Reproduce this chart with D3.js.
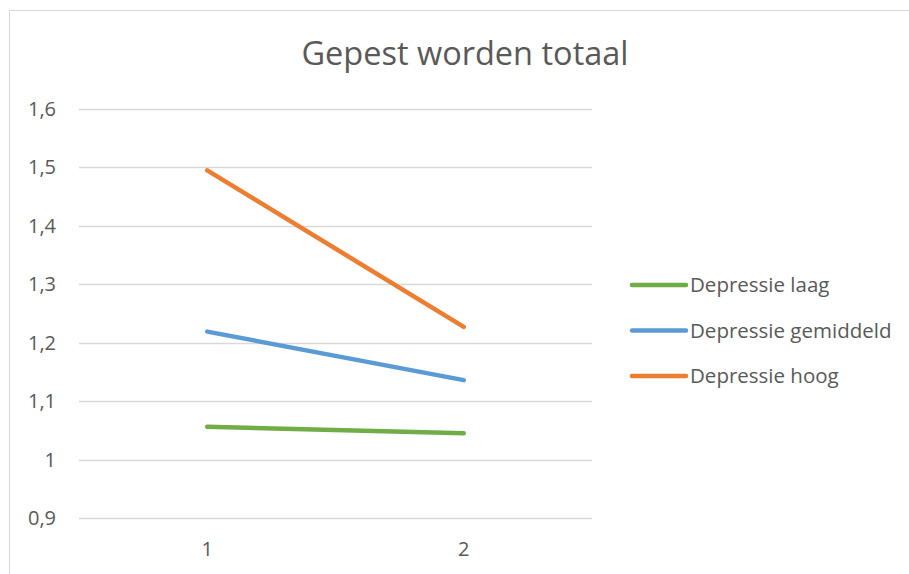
<!DOCTYPE html>
<html>
<head>
<meta charset="utf-8">
<script src="https://cdn.jsdelivr.net/npm/d3@7"></script>
<style>
  body { margin: 0; background: #fff; }
  text { font-family: "Open Sans", "Noto Sans", sans-serif; fill: #595959; }
</style>
</head>
<body>
<svg id="chart"></svg>
<script>
const width = 909;
const height = 574;

const categories = ['1', '2'];
const seriesNames = ['Depressie laag', 'Depressie gemiddeld', 'Depressie hoog'];
const laag = [1.056, 1.045];
const gemiddeld = [1.219, 1.136];
const hoog = [1.495, 1.227];
const yTicks = [0.9, 1, 1.1, 1.2, 1.3, 1.4, 1.5, 1.6];
const colors = ['#70AD47', '#5B9BD5', '#ED7D31'];

const series = [laag, gemiddeld, hoog].map((values, i) => ({
    name: seriesNames[i],
    color: colors[i],
    values: values
}));

const svg = d3.select('#chart')
    .attr('width', width)
    .attr('height', height);

// chart frame
svg.append('rect')
    .attr('x', 9.5)
    .attr('y', 10.5)
    .attr('width', 920)
    .attr('height', 600)
    .attr('fill', 'none')
    .attr('stroke', '#d9d9d9')
    .attr('stroke-width', 1);

svg.append('text')
    .attr('x', 465)
    .attr('y', 65)
    .attr('text-anchor', 'middle')
    .style('font-size', '32.5px')
    .text('Gepest worden totaal');

const x = d3.scaleBand()
    .domain(categories)
    .range([79, 592]);

const y = d3.scaleLinear()
    .domain([0.9, 1.6])
    .range([518, 109]);

// gridlines
svg.append('g')
    .selectAll('line')
    .data(yTicks)
    .enter()
    .append('line')
    .attr('x1', 79)
    .attr('x2', 592)
    .attr('y1', d => Math.round(y(d)) + 0.5)
    .attr('y2', d => Math.round(y(d)) + 0.5)
    .attr('stroke', '#d9d9d9')
    .attr('stroke-width', 1.3);

const fmt = d => String(d).replace('.', ',');

svg.append('g')
    .selectAll('text')
    .data(yTicks)
    .enter()
    .append('text')
    .attr('x', 56)
    .attr('y', d => y(d))
    .attr('dy', '0.35em')
    .attr('text-anchor', 'end')
    .style('font-size', '20px')
    .text(fmt);

svg.append('g')
    .selectAll('text')
    .data(categories)
    .enter()
    .append('text')
    .attr('x', d => x(d) + x.bandwidth() / 2)
    .attr('y', 556)
    .attr('text-anchor', 'middle')
    .style('font-size', '20px')
    .text(d => d);

const line = d3.line()
    .x((d, i) => x(categories[i]) + x.bandwidth() / 2)
    .y(d => y(d));

svg.append('g')
    .selectAll('path')
    .data(series)
    .enter()
    .append('path')
    .attr('d', d => line(d.values))
    .attr('fill', 'none')
    .attr('stroke', d => d.color)
    .attr('stroke-width', 4.5)
    .attr('stroke-linecap', 'round');

// legend
const legend = svg.append('g')
    .selectAll('g')
    .data(series)
    .enter()
    .append('g')
    .attr('transform', (d, i) => `translate(632, ${285 + i * 45.5})`);

legend.append('line')
    .attr('x1', 0)
    .attr('x2', 54)
    .attr('stroke', d => d.color)
    .attr('stroke-width', 4.5)
    .attr('stroke-linecap', 'round');

legend.append('text')
    .attr('x', 58)
    .attr('dy', '0.35em')
    .style('font-size', '20.5px')
    .text(d => d.name);
</script>
</body>
</html>
